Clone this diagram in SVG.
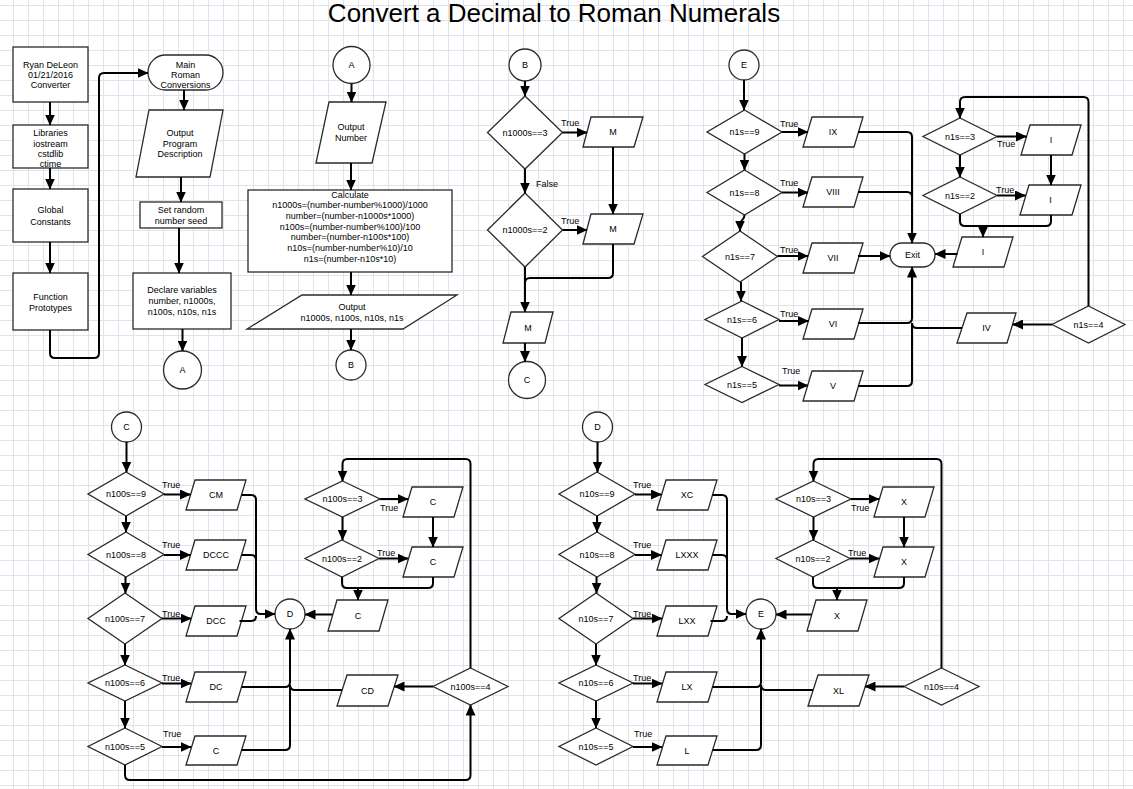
<svg xmlns="http://www.w3.org/2000/svg" width="1133" height="789" viewBox="0 0 1133 789">
<defs>
<pattern id="grid" x="13" y="5" width="15" height="15" patternUnits="userSpaceOnUse"><path d="M0,0.5 H15 M0.5,0 V15" fill="none" stroke="#e2e2ec" stroke-width="1"/></pattern>
<marker id="ah" viewBox="0 0 11 10" refX="10.5" refY="5" markerWidth="11" markerHeight="10" markerUnits="userSpaceOnUse" orient="auto"><path d="M0,0 L11,5 L0,10 z" fill="#000"/></marker>
<style>
.s{fill:#fff;stroke:#2a2a2a;stroke-width:1.3}
.c{fill:none;stroke:#000;stroke-width:2}
.a{marker-end:url(#ah)}
text{font-family:"Liberation Sans",Arial,sans-serif;font-size:9px;fill:#000;text-anchor:middle}
.l{text-anchor:start}
.t{font-size:26px}
</style>
</defs>
<rect width="1133" height="789" fill="#fff"/>
<rect width="1133" height="789" fill="url(#grid)"/>
<text class="t" x="554" y="22">Convert a Decimal to Roman Numerals</text>

<!-- Start column -->
<g id="n-header"><rect class="s" x="13" y="47" width="75" height="55"/><text x="50.5" y="68">Ryan  DeLeon</text><text x="50.5" y="78">01/21/2016</text><text x="50.5" y="88">Converter</text></g>
<g id="n-libs"><rect class="s" x="13" y="125" width="75" height="43"/><text x="50.5" y="136">Libraries</text><text x="50.5" y="146.5">iostream</text><text x="50.5" y="157">cstdlib</text><text x="50.5" y="167">ctime</text></g>
<g id="n-globals"><rect class="s" x="13" y="189" width="75" height="53"/><text x="50.5" y="213">Global</text><text x="50.5" y="224.5">Constants</text></g>
<g id="n-protos"><rect class="s" x="13" y="273" width="75" height="57"/><text x="50.5" y="300">Function</text><text x="50.5" y="311">Prototypes</text></g>
<g id="n-main"><rect class="s" x="148" y="55" width="75" height="35" rx="17.5"/><text x="185.5" y="67.5">Main</text><text x="185.5" y="77.5">Roman</text><text x="185.5" y="87.5">Conversions</text></g>
<g id="n-desc"><polygon class="s" points="149,110 223,110 210,177 136,177"/><text x="180" y="136">Output</text><text x="180" y="147">Program</text><text x="180" y="157">Description</text></g>
<g id="n-seed"><rect class="s" x="140" y="202" width="82" height="26"/><text x="181" y="213.3">Set random</text><text x="181" y="224.3">number seed</text></g>
<g id="n-decl"><rect class="s" x="133" y="273" width="98" height="56"/><text x="182" y="293.3">Declare variables</text><text x="182" y="304.3">number, n1000s,</text><text x="182" y="315.3">n100s, n10s, n1s</text></g>
<g id="n-A1"><circle class="s" cx="182.5" cy="370" r="19"/><text x="182.5" y="373">A</text></g>

<!-- A column -->
<g id="n-A2"><circle class="s" cx="351.5" cy="65" r="18.5"/><text x="351.5" y="68">A</text></g>
<g id="n-outnum"><polygon class="s" points="329,102 386,102 372,163 316,163"/><text x="351" y="130">Output</text><text x="351" y="141">Number</text></g>
<g id="n-calc"><rect class="s" x="248" y="190" width="204" height="82"/>
<text x="350" y="197.5">Calculate</text>
<text x="350" y="208.2">n1000s=(number-number%1000)/1000</text>
<text x="350" y="218.9">number=(number-n1000s*1000)</text>
<text x="350" y="229.6">n100s=(number-number%100)/100</text>
<text x="350" y="240.3">number=(number-n100s*100)</text>
<text x="350" y="251">n10s=(number-number%10)/10</text>
<text x="350" y="261.7">n1s=(number-n10s*10)</text></g>
<g id="n-outvals"><polygon class="s" points="302,295 457,295 403,329 247,329"/><text x="352" y="310">Output</text><text x="352" y="321">n1000s, n100s, n10s, n1s</text></g>
<g id="n-B1"><circle class="s" cx="351" cy="365" r="15"/><text x="351" y="368">B</text></g>

<!-- B column -->
<g id="n-B2"><circle class="s" cx="525" cy="65" r="16"/><text x="525" y="68">B</text></g>
<g id="n-q1000-3"><polygon class="s" points="525,96 562.5,132.5 525,169 487.5,132.5"/><text x="525" y="135.5">n1000s==3</text></g>
<g id="n-M1"><polygon class="s" points="591,117 643,117 634,147 583,147"/><text x="613" y="135">M</text></g>
<g id="n-q1000-2"><polygon class="s" points="525,193 562.5,230 525,267 487.5,230"/><text x="525" y="233">n1000s==2</text></g>
<g id="n-M2"><polygon class="s" points="591,214 643,214 634,244 583,244"/><text x="613" y="232">M</text></g>
<g id="n-M3"><polygon class="s" points="511,312 553,312 545,343 503,343"/><text x="528" y="330.5">M</text></g>
<g id="n-C1"><circle class="s" cx="527" cy="380" r="18.5"/><text x="527" y="383">C</text></g>

<!-- E section (ones) -->
<g id="n-E1"><circle class="s" cx="744" cy="65" r="15"/><text x="744" y="68">E</text></g>
<g id="n-q1-9"><polygon class="s" points="744.5,110 782,132 744.5,154 707,132"/><text x="744.5" y="135">n1s==9</text></g>
<g id="n-IX"><polygon class="s" points="812,117 863,117 854,147 803,147"/><text x="833" y="135">IX</text></g>
<g id="n-q1-8"><polygon class="s" points="744.5,170 782,192.5 744.5,215 707,192.5"/><text x="744.5" y="195.5">n1s==8</text></g>
<g id="n-VIII"><polygon class="s" points="812,177 863,177 854,207 803,207"/><text x="833" y="195">VIII</text></g>
<g id="n-q1-7"><polygon class="s" points="740,231 777.5,256.5 740,282 702.5,256.5"/><text x="740" y="259.5">n1s==7</text></g>
<g id="n-VII"><polygon class="s" points="812,243 863,243 854,273 803,273"/><text x="833" y="261">VII</text></g>
<g id="n-q1-6"><polygon class="s" points="742,301 779,319.5 742,338 705,319.5"/><text x="742" y="322.5">n1s==6</text></g>
<g id="n-VI"><polygon class="s" points="812,309 863,309 854,339 803,339"/><text x="833" y="327">VI</text></g>
<g id="n-q1-5"><polygon class="s" points="742,366.5 779,384.5 742,402.5 705,384.5"/><text x="742" y="387.5">n1s==5</text></g>
<g id="n-V"><polygon class="s" points="812,371 863,371 854,401 803,401"/><text x="833" y="389">V</text></g>
<g id="n-exit"><rect class="s" x="890" y="243" width="45" height="24" rx="12"/><text x="912.5" y="258">Exit</text></g>
<g id="n-q1-3"><polygon class="s" points="960,118 997,136.5 960,155 923,136.5"/><text x="960" y="139.5">n1s==3</text></g>
<g id="n-I1"><polygon class="s" points="1030,125 1081,125 1072,155 1021,155"/><text x="1051" y="143">I</text></g>
<g id="n-q1-2"><polygon class="s" points="960,177 997,195.5 960,214 923,195.5"/><text x="960" y="198.5">n1s==2</text></g>
<g id="n-I2"><polygon class="s" points="1029,185 1081,185 1072,215 1020,215"/><text x="1050.5" y="203">I</text></g>
<g id="n-I3"><polygon class="s" points="962,237 1013,237 1004,267 953,267"/><text x="983" y="255">I</text></g>
<g id="n-q1-4"><polygon class="s" points="1088.5,306 1125,324.5 1088.5,343 1052,324.5"/><text x="1088.5" y="327.5">n1s==4</text></g>
<g id="n-IV"><polygon class="s" points="967,313 1016,313 1007,343 957,343"/><text x="986.5" y="331">IV</text></g>

<!-- C section (hundreds) -->
<g id="n-C2"><circle class="s" cx="126.5" cy="427" r="15"/><text x="126.5" y="430">C</text></g>
<g id="n-q100-9"><polygon class="s" points="126,472 164,494 126,516 88,494"/><text x="126" y="497">n100s==9</text></g>
<g id="n-CM"><polygon class="s" points="195,480 246,480 237,510 186,510"/><text x="216" y="498">CM</text></g>
<g id="n-q100-8"><polygon class="s" points="126,532 164,554.5 126,577 88,554.5"/><text x="126" y="557.5">n100s==8</text></g>
<g id="n-DCCC"><polygon class="s" points="195,540 246,540 237,570 186,570"/><text x="216" y="558">DCCC</text></g>
<g id="n-q100-7"><polygon class="s" points="125,593 162,618.5 125,644 88,618.5"/><text x="125" y="621.5">n100s==7</text></g>
<g id="n-DCC"><polygon class="s" points="195,606 246,606 237,636 186,636"/><text x="216" y="624">DCC</text></g>
<g id="n-q100-6"><polygon class="s" points="125,665 162,683 125,701 88,683"/><text x="125" y="686">n100s==6</text></g>
<g id="n-DC"><polygon class="s" points="195,672 246,672 237,702 186,702"/><text x="216" y="690">DC</text></g>
<g id="n-q100-5"><polygon class="s" points="125,728 162,746.5 125,765 88,746.5"/><text x="125" y="749.5">n100s==5</text></g>
<g id="n-C5"><polygon class="s" points="195,736 246,736 237,765 186,765"/><text x="216" y="753.5">C</text></g>
<g id="n-D1"><circle class="s" cx="290" cy="614" r="15"/><text x="290" y="617">D</text></g>
<g id="n-q100-3"><polygon class="s" points="342.5,481 380,499 342.5,517 305,499"/><text x="342.5" y="502">n100s==3</text></g>
<g id="n-C3a"><polygon class="s" points="412,487 463,487 454,517 403,517"/><text x="433" y="505">C</text></g>
<g id="n-q100-2"><polygon class="s" points="342,540 379,558.5 342,577 305,558.5"/><text x="342" y="561.5">n100s==2</text></g>
<g id="n-C3b"><polygon class="s" points="412,547 463,547 454,577 403,577"/><text x="433" y="565">C</text></g>
<g id="n-C3c"><polygon class="s" points="337,600 388,600 379,631 328,631"/><text x="358" y="618.5">C</text></g>
<g id="n-q100-4"><polygon class="s" points="470.5,668 508,686.5 470.5,705 433,686.5"/><text x="470.5" y="689.5">n100s==4</text></g>
<g id="n-CD"><polygon class="s" points="347,675 398,675 388,706 337,706"/><text x="367.5" y="693.5">CD</text></g>

<!-- D section (tens) -->
<g transform="translate(471,0)">
<g id="n-D2"><circle class="s" cx="126.5" cy="427" r="15"/><text x="126.5" y="430">D</text></g>
<g id="n-q10-9"><polygon class="s" points="126,472 164,494 126,516 88,494"/><text x="126" y="497">n10s==9</text></g>
<g id="n-XC"><polygon class="s" points="195,480 246,480 237,510 186,510"/><text x="216" y="498">XC</text></g>
<g id="n-q10-8"><polygon class="s" points="126,532 164,554.5 126,577 88,554.5"/><text x="126" y="557.5">n10s==8</text></g>
<g id="n-LXXX"><polygon class="s" points="195,540 246,540 237,570 186,570"/><text x="216" y="558">LXXX</text></g>
<g id="n-q10-7"><polygon class="s" points="125,593 162,618.5 125,644 88,618.5"/><text x="125" y="621.5">n10s==7</text></g>
<g id="n-LXX"><polygon class="s" points="195,606 246,606 237,636 186,636"/><text x="216" y="624">LXX</text></g>
<g id="n-q10-6"><polygon class="s" points="125,665 162,683 125,701 88,683"/><text x="125" y="686">n10s==6</text></g>
<g id="n-LX"><polygon class="s" points="195,672 246,672 237,702 186,702"/><text x="216" y="690">LX</text></g>
<g id="n-q10-5"><polygon class="s" points="125,728 162,746.5 125,765 88,746.5"/><text x="125" y="749.5">n10s==5</text></g>
<g id="n-L"><polygon class="s" points="195,736 246,736 237,765 186,765"/><text x="216" y="753.5">L</text></g>
<g id="n-E2"><circle class="s" cx="290" cy="614" r="15"/><text x="290" y="617">E</text></g>
<g id="n-q10-3"><polygon class="s" points="342.5,481 380,499 342.5,517 305,499"/><text x="342.5" y="502">n10s==3</text></g>
<g id="n-Xa"><polygon class="s" points="412,487 463,487 454,517 403,517"/><text x="433" y="505">X</text></g>
<g id="n-q10-2"><polygon class="s" points="342,540 379,558.5 342,577 305,558.5"/><text x="342" y="561.5">n10s==2</text></g>
<g id="n-Xb"><polygon class="s" points="412,547 463,547 454,577 403,577"/><text x="433" y="565">X</text></g>
<g id="n-Xc"><polygon class="s" points="345,600 396,600 387,631 336,631"/><text x="366" y="618.5">X</text></g>
<g id="n-q10-4"><polygon class="s" points="470.5,668 508,686.5 470.5,705 433,686.5"/><text x="470.5" y="689.5">n10s==4</text></g>
<g id="n-XL"><polygon class="s" points="347,675 398,675 388,706 337,706"/><text x="367.5" y="693.5">XL</text></g>
</g>

<!-- Connectors -->
<g id="connectors">
<path class="c a" d="M50,102 V125"/>
<path class="c a" d="M50,168 V189"/>
<path class="c a" d="M50,242 V273"/>
<path class="c a" d="M50,330 V353 Q50,358 55,358 H94 Q99,358 99,353 V78 Q99,73 104,73 H148"/>
<path class="c a" d="M184,90 V110"/>
<path class="c a" d="M181,177 V202"/>
<path class="c a" d="M179,228 V273"/>
<path class="c a" d="M182.5,329 V351"/>

<path class="c a" d="M351.5,83.5 V102"/>
<path class="c a" d="M351,163 V190"/>
<path class="c a" d="M351,272 V295"/>
<path class="c a" d="M351,329 V350"/>

<path class="c a" d="M525,81 V96"/>
<path class="c a" d="M562.5,132.5 H587"/>
<path class="c a" d="M613,147 V214"/>
<path class="c a" d="M525,169 V193"/>
<path class="c a" d="M562.5,230 H587"/>
<path class="c" d="M613,244 V273 Q613,278 608,278 H530 Q525,278 525,283"/>
<path class="c a" d="M525,267 V312"/>
<path class="c a" d="M525,343 V361.5"/>

<path class="c a" d="M744,80 V110"/>
<path class="c a" d="M782,132 H808"/>
<path class="c a" d="M858,132 H907 Q912,132 912,137 V243"/>
<path class="c a" d="M744.5,154 V170"/>
<path class="c a" d="M782,192.5 H808"/>
<path class="c" d="M858,192 H907 Q912,192 912,197"/>
<path class="c a" d="M744.5,215 C744.5,221 740,219 740,225 V231"/>
<path class="c a" d="M777.5,256 H808"/>
<path class="c a" d="M858,256 H890"/>
<path class="c a" d="M741,282 V301"/>
<path class="c a" d="M779,321 H808.5"/>
<path class="c a" d="M858,323 H907 Q912,323 912,318 V267"/>
<path class="c a" d="M742,338 V366.5"/>
<path class="c a" d="M779,385.5 H808"/>
<path class="c" d="M858,386 H907 Q912,386 912,381 V323"/>
<path class="c a" d="M1088.5,306 V102 Q1088.5,97 1083.5,97 H965 Q960,97 960,102 V118"/>
<path class="c a" d="M997,136.5 H1026.5"/>
<path class="c a" d="M1051,155 V185"/>
<path class="c a" d="M960,155 V177"/>
<path class="c a" d="M997,195.5 H1025.5"/>
<path class="c" d="M960,214 V221 Q960,226 965,226 H1046 Q1051,226 1051,221 V215"/>
<path class="c a" d="M983,226 V237"/>
<path class="c a" d="M957.5,254 H935"/>
<path class="c a" d="M1052,324.5 H1012.5"/>
<path class="c" d="M962,328 H917 Q912,328 912,323"/>

<g id="conn-hundreds">
<path class="c a" d="M126.5,442 V472"/>
<path class="c a" d="M164,494.5 H190.5"/>
<path class="c a" d="M241.5,495 H251 Q256,495 256,500 V609 Q256,614 261,614 H275"/>
<path class="c a" d="M126,516 V532"/>
<path class="c a" d="M164,555 H190.5"/>
<path class="c" d="M241.5,555 H251 Q256,555 256,560"/>
<path class="c a" d="M125.5,577 V593"/>
<path class="c a" d="M162,618.5 H191"/>
<path class="c" d="M239.5,621 H251 Q256,621 256,616"/>
<path class="c a" d="M125,644 V665"/>
<path class="c a" d="M162,683.5 H191"/>
<path class="c a" d="M241.5,687 H285 Q290,687 290,682 V629"/>
<path class="c a" d="M125,701 V728"/>
<path class="c a" d="M162,747 H191"/>
<path class="c" d="M241.5,750 H285 Q290,750 290,745 V687"/>
<path class="c a" d="M125,765 V775 Q125,780 130,780 H465.5 Q470.5,780 470.5,775 V705"/>
<path class="c a" d="M470.5,668 V464 Q470.5,459 465.5,459 H347.5 Q342.5,459 342.5,464 V481"/>
<path class="c a" d="M380,499 H408"/>
<path class="c a" d="M433,517 V547"/>
<path class="c a" d="M342.5,517 V540"/>
<path class="c a" d="M379,558.5 H408"/>
<path class="c" d="M342,577 V583 Q342,588 347,588 H428 Q433,588 433,583 V577"/>
<path class="c a" d="M358,588 V600"/>
<path class="c a" d="M332.5,614.5 H305"/>
<path class="c a" d="M433,686.5 H394"/>
<path class="c" d="M342,690 H295 Q290,690 290,685"/>
</g>

<g id="conn-tens" transform="translate(471,0)">
<path class="c a" d="M126.5,442 V472"/>
<path class="c a" d="M164,494.5 H190.5"/>
<path class="c a" d="M241.5,495 H251 Q256,495 256,500 V609 Q256,614 261,614 H275"/>
<path class="c a" d="M126,516 V532"/>
<path class="c a" d="M164,555 H190.5"/>
<path class="c" d="M241.5,555 H251 Q256,555 256,560"/>
<path class="c a" d="M125.5,577 V593"/>
<path class="c a" d="M162,618.5 H191"/>
<path class="c" d="M239.5,621 H251 Q256,621 256,616"/>
<path class="c a" d="M125,644 V665"/>
<path class="c a" d="M162,683.5 H191"/>
<path class="c a" d="M241.5,687 H285 Q290,687 290,682 V629"/>
<path class="c a" d="M125,701 V728"/>
<path class="c a" d="M162,747 H191"/>
<path class="c" d="M241.5,750 H285 Q290,750 290,745 V687"/>
<path class="c a" d="M470.5,668 V464 Q470.5,459 465.5,459 H347.5 Q342.5,459 342.5,464 V481"/>
<path class="c a" d="M380,499 H408"/>
<path class="c a" d="M433,517 V547"/>
<path class="c a" d="M342.5,517 V540"/>
<path class="c a" d="M379,558.5 H408"/>
<path class="c" d="M342,577 V583 Q342,588 347,588 H428 Q433,588 433,583 V577"/>
<path class="c a" d="M366,588 V600"/>
<path class="c a" d="M340.5,614.5 H305"/>
<path class="c a" d="M433,686.5 H394"/>
<path class="c" d="M342,690 H295 Q290,690 290,685"/>
</g>
</g>

<!-- Edge labels -->
<g id="labels">
<text class="l" x="561" y="126">True</text>
<text class="l" x="561" y="224">True</text>
<text class="l" x="536" y="187">False</text>
<text class="l" x="780" y="127">True</text>
<text class="l" x="780" y="186">True</text>
<text class="l" x="780" y="253">True</text>
<text class="l" x="780" y="317">True</text>
<text class="l" x="782" y="374">True</text>
<text class="l" x="997" y="147">True</text>
<text class="l" x="996" y="193">True</text>
<text class="l" x="162" y="488">True</text>
<text class="l" x="162" y="548">True</text>
<text class="l" x="162" y="617">True</text>
<text class="l" x="162" y="681">True</text>
<text class="l" x="163" y="737">True</text>
<text class="l" x="380" y="511">True</text>
<text class="l" x="377" y="556">True</text>
<text class="l" x="633" y="488">True</text>
<text class="l" x="633" y="548">True</text>
<text class="l" x="633" y="617">True</text>
<text class="l" x="633" y="681">True</text>
<text class="l" x="634" y="737">True</text>
<text class="l" x="851" y="511">True</text>
<text class="l" x="848" y="556">True</text>
</g>
</svg>
